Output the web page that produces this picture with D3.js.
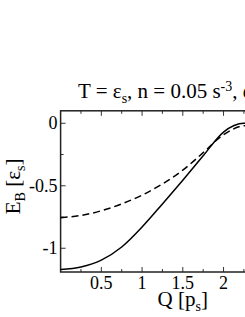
<!DOCTYPE html>
<html>
<head>
<meta charset="utf-8">
<script src="https://cdn.jsdelivr.net/npm/d3@7"></script>
<style>
    body { margin: 0; background: #fff; }
    text { font-family: "Liberation Serif", "Times New Roman", serif; fill: #000; }
</style>
</head>
<body>
<div id="my_dataviz"></div>
<script>
// momentum Q [p_s]
var qValues = [0, 0.25, 0.5, 0.75, 1.0, 1.25, 1.5, 1.75, 2.0, 2.25, 2.5];
// solid curve
var solidE = [-1.17, -1.15, -1.095, -0.99, -0.83, -0.645, -0.455, -0.26, -0.07, 0.0, -0.01];
// dashed curve
var dashedE = [-0.755, -0.737, -0.70, -0.645, -0.575, -0.485, -0.375, -0.235, -0.092, -0.02, -0.012];

var xTicks = [0.5, 1, 1.5, 2];
var yTicks = [0, -0.5, -1];

var width = 245,
    height = 317;

var plotLeft = 60.6,
    plotRight = 305,
    plotTop = 110.8,
    plotBottom = 272;

var x = d3.scaleLinear().domain([0, 3]).range([plotLeft, plotRight]);
var y = d3.scaleLinear().domain([-1.19, 0.1]).range([plotBottom, plotTop]);

var svg = d3.select("#my_dataviz").append("svg")
    .attr("width", width)
    .attr("height", height);

function isMajor(d) {
    return Math.abs(d * 2 - Math.round(d * 2)) < 1e-6;
}

// minor + major ticks, pointing inward
var xMinor = d3.range(0.25, 3, 0.25);
var yMinor = d3.range(-1.0, 0.1, 0.25);

svg.append("g").selectAll("line")
    .data(xMinor)
    .enter().append("line")
    .attr("x1", d => x(d)).attr("x2", d => x(d))
    .attr("y1", plotBottom).attr("y2", d => plotBottom - (isMajor(d) ? 5 : 3))
    .attr("stroke", "#333").attr("stroke-width", 1);

svg.append("g").selectAll("line")
    .data(xMinor)
    .enter().append("line")
    .attr("x1", d => x(d)).attr("x2", d => x(d))
    .attr("y1", plotTop).attr("y2", d => plotTop + (isMajor(d) ? 5 : 3))
    .attr("stroke", "#333").attr("stroke-width", 1);

svg.append("g").selectAll("line")
    .data(yMinor)
    .enter().append("line")
    .attr("y1", d => y(d)).attr("y2", d => y(d))
    .attr("x1", plotLeft).attr("x2", d => plotLeft + (isMajor(d) ? 5 : 3))
    .attr("stroke", "#333").attr("stroke-width", 1);

// frame
svg.append("rect")
    .attr("x", plotLeft).attr("y", plotTop)
    .attr("width", plotRight - plotLeft).attr("height", plotBottom - plotTop)
    .attr("fill", "none")
    .attr("stroke", "#222")
    .attr("stroke-width", 1.5);

// tick labels
svg.append("g").selectAll("text")
    .data(xTicks)
    .enter().append("text")
    .attr("x", d => x(d))
    .attr("y", 289)
    .attr("text-anchor", "middle")
    .style("font-size", "18px")
    .text(d => d);

svg.append("g").selectAll("text")
    .data(yTicks)
    .enter().append("text")
    .attr("x", plotLeft - 3)
    .attr("y", d => y(d))
    .attr("dy", "0.33em")
    .attr("text-anchor", "end")
    .style("font-size", "18px")
    .text(d => d === 0 ? "0" : "-" + Math.abs(d));

// curves
var line = d3.line()
    .x((d, i) => x(qValues[i]))
    .y(d => y(d))
    .curve(d3.curveMonotoneX);

svg.append("path")
    .attr("d", line(solidE))
    .attr("fill", "none")
    .attr("stroke", "#000")
    .attr("stroke-width", 1.5);

svg.append("path")
    .attr("d", line(dashedE))
    .attr("fill", "none")
    .attr("stroke", "#000")
    .attr("stroke-width", 1.5)
    .attr("stroke-dasharray", "7,4");

// axis titles
var xl = svg.append("text")
    .attr("x", (plotLeft + plotRight) / 2)
    .attr("y", 306)
    .attr("text-anchor", "middle")
    .style("font-size", "21px");
xl.append("tspan").text("Q [p");
xl.append("tspan").attr("dy", 5).style("font-size", "14px").text("s");
xl.append("tspan").attr("dy", -5).text("]");

var yl = svg.append("text")
    .attr("transform", "translate(20," + ((plotTop + plotBottom) / 2 - 5) + ") rotate(-90)")
    .attr("text-anchor", "middle")
    .style("font-size", "21px");
yl.append("tspan").text("E");
yl.append("tspan").attr("dy", 5).style("font-size", "14px").text("B");
yl.append("tspan").attr("dy", -5).text(" [ε");
yl.append("tspan").attr("dy", 5).style("font-size", "14px").text("s");
yl.append("tspan").attr("dy", -5).text("]");

// title
var tt = svg.append("text")
    .attr("x", 78)
    .attr("y", 98)
    .style("font-size", "21px");
tt.append("tspan").text("T = ε");
tt.append("tspan").attr("dy", 5).style("font-size", "14px").text("s");
tt.append("tspan").attr("dy", -5).text(", n = 0.05 s");
tt.append("tspan").attr("dy", -7).style("font-size", "14px").text("-3");
tt.append("tspan").attr("dy", 7).text(", α = 0.1");
</script>
</body>
</html>
